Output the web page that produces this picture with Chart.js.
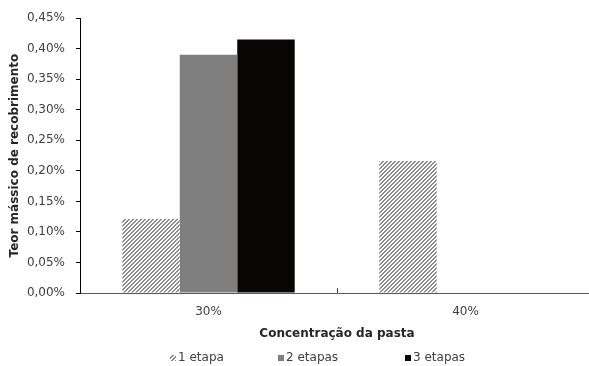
<!DOCTYPE html>
<html>
<head>
<meta charset="utf-8">
<script src="https://cdn.jsdelivr.net/npm/chart.js@4/dist/chart.umd.min.js"></script>
<style>
  html, body { margin: 0; padding: 0; background: #fff; overflow: hidden; }
  #wrap { width: 594px; height: 366px; }
</style>
</head>
<body>
<div id="wrap"><canvas id="c" width="594" height="366"></canvas></div>
<script>
// Coating mass content (%) by paste concentration and number of stages
const categories = ['30%', '40%'];
const seriesNames = ['1 etapa', '2 etapas', '3 etapas'];
const umaEtapa = [0.121, 0.216];
const duasEtapas = [0.390, 0];
const tresEtapas = [0.415, 0];
const yTicks = [0, 0.05, 0.10, 0.15, 0.20, 0.25, 0.30, 0.35, 0.40, 0.45];

// legend item left edges and baseline row
const legendX = [170, 278, 405];
const legendY = 358;

// diagonal hatch fill for the single-stage series
function hatch() {
  const t = document.createElement('canvas');
  t.width = 4; t.height = 4;
  const g = t.getContext('2d');
  g.fillStyle = '#ffffff';
  g.fillRect(0, 0, 4, 4);
  g.fillStyle = '#8a8a8a';
  for (let x = 0; x < 4; x++) {
    for (let y = 0; y < 4; y++) {
      const k = (x + y) % 4;
      if (k === 3 || k === 0) g.fillRect(x, y, 1, 1);
    }
  }
  return document.getElementById('c').getContext('2d').createPattern(t, 'repeat');
}

const fmt = v => v.toFixed(2).replace('.', ',') + '%';
const FONT = 'DejaVu Sans';

// small inner tick marks between categories on the x axis
const catTicks = {
  id: 'catTicks',
  afterDraw(chart) {
    const x = chart.scales.x, y = chart.scales.y;
    const ctx = chart.ctx;
    ctx.save();
    ctx.strokeStyle = '#404040';
    ctx.lineWidth = 1;
    for (let i = 0; i < categories.length - 1; i++) {
      const px = Math.round((x.getPixelForValue(i) + x.getPixelForValue(i + 1)) / 2) + 0.5;
      const base = y.getPixelForValue(0);
      ctx.beginPath();
      ctx.moveTo(px, base);
      ctx.lineTo(px, base - 5);
      ctx.stroke();
    }
    ctx.restore();
  }
};

// compact legend row: small swatch followed closely by the series name
const rowLegend = {
  id: 'rowLegend',
  afterDraw(chart) {
    const ctx = chart.ctx;
    ctx.save();
    ctx.font = '12px "' + FONT + '"';
    ctx.textBaseline = 'middle';
    ctx.textAlign = 'left';
    chart.data.datasets.forEach((ds, i) => {
      const x0 = legendX[i];
      ctx.fillStyle = ds.backgroundColor;
      ctx.fillRect(x0, legendY - 3, 6, 6);
      ctx.fillStyle = '#404040';
      ctx.fillText(ds.label, x0 + 8, legendY);
    });
    ctx.restore();
  }
};

new Chart(document.getElementById('c'), {
  type: 'bar',
  data: {
    labels: categories,
    datasets: [
      { label: seriesNames[0], data: umaEtapa, backgroundColor: hatch(), borderWidth: 0 },
      { label: seriesNames[1], data: duasEtapas, backgroundColor: '#7f7f7f', borderWidth: 0 },
      { label: seriesNames[2], data: tresEtapas, backgroundColor: '#080604', borderWidth: 0 }
    ]
  },
  options: {
    responsive: false,
    animation: false,
    events: [],
    layout: { padding: { top: 16, left: 0, right: 0, bottom: 25 } },
    datasets: { bar: { categoryPercentage: 0.671, barPercentage: 1.0 } },
    scales: {
      x: {
        offset: true,
        afterFit(s) { s.height = 48; },
        grid: { display: false, drawTicks: false },
        border: { display: true, color: '#595959', width: 1 },
        ticks: { color: '#404040', font: { family: FONT, size: 12 }, padding: 12 },
        title: {
          display: true, text: 'Concentração da pasta', color: '#262626',
          font: { family: FONT, size: 12, weight: 'bold' }, padding: { top: 5, bottom: 0 }
        }
      },
      y: {
        min: 0, max: 0.45,
        afterFit(s) { s.width = 80; },
        afterBuildTicks(s) { s.ticks = yTicks.map(v => ({ value: v })); },
        grid: { drawOnChartArea: false, tickLength: 4, color: '#000000' },
        border: { display: true, color: '#000000', width: 1 },
        ticks: {
          color: '#404040', font: { family: FONT, size: 12 }, padding: 11,
          callback: v => fmt(v)
        },
        title: {
          display: true, text: 'Teor mássico de recobrimento', color: '#262626',
          font: { family: FONT, size: 12, weight: 'bold' }, padding: { top: 8, bottom: 0 }
        }
      }
    },
    plugins: {
      legend: { display: false },
      tooltip: { enabled: false }
    }
  },
  plugins: [catTicks, rowLegend]
});
</script>
</body>
</html>
